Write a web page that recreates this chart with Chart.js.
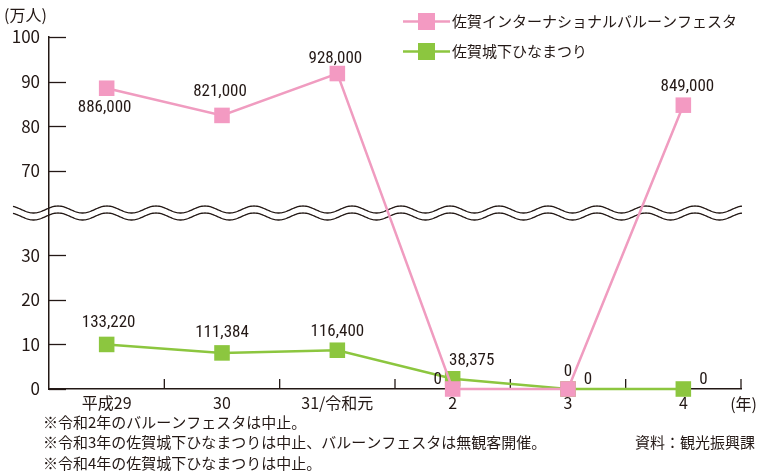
<!DOCTYPE html>
<html lang="ja">
<head>
<meta charset="utf-8">
<script src="https://cdn.jsdelivr.net/npm/chart.js@4.4.1/dist/chart.umd.min.js"></script>
<style>
    html, body { margin: 0; padding: 0; background: #ffffff; }
</style>
</head>
<body>
<canvas id="visitorChart" width="758" height="472"></canvas>
<script>
// values in 万人
const years = ["平成29", "30", "31/令和元", "2", "3", "4"];
const balloonValues = [88.5, 82.4, 91.8, 0, 0, 84.7];
const hinaValues = [10.0, 8.1, 8.7, 2.3, 0, 0];
const balloonLabels = ["886,000", "821,000", "928,000", "0", "0", "849,000"];
const hinaLabels = ["133,220", "111,384", "116,400", "38,375", "0", "0"];
const yTicks = [0, 10, 20, 30, 70, 80, 90, 100];
const seriesNames = ["佐賀インターナショナルバルーンフェスタ", "佐賀城下ひなまつり"];
const notes = [
    "※令和2年のバルーンフェスタは中止。",
    "※令和3年の佐賀城下ひなまつりは中止、バルーンフェスタは無観客開催。",
    "※令和4年の佐賀城下ひなまつりは中止。"
];
const sourceNote = "資料：観光振興課";

// broken axis: 30..70 is squeezed into a short gap
const BREAK_LOW = 30;
const BREAK_HIGH = 70;
const BREAK_SPAN = 19;

function toAxis(v) {
    return v <= BREAK_LOW ? v : v - (BREAK_HIGH - BREAK_LOW) + BREAK_SPAN;
}

const JP_FONT = "'Noto Sans CJK JP', 'Noto Sans', sans-serif";
const NUM_FONT = "'Liberation Sans Narrow', 'Roboto Condensed', Roboto, sans-serif";
const TEXT_COLOR = "#231815";
const PINK_LINE = "#f09cc0";
const PINK_MARK = "#f39ac2";
const GREEN_LINE = "#8cc63f";
const GREEN_MARK = "#8cc63f";

// label placement relative to each point [dx, dy]
const labelOffsets = [
    [[-2, 20], [-2, -24], [-2, -15], [-15, -9], [20, -9], [4, -18]],
    [[2, -22], [0, -20], [0, -18], [19, -18], [0, -17], [20, -9]]
];

const breakPlugin = {
    id: "breakPlugin",
    beforeDraw(chart) {
        const { ctx } = chart;
        const y = chart.scales.y;
        const cy = y.getPixelForValue((BREAK_LOW + toAxis(BREAK_HIGH)) / 2);
        ctx.save();
        ctx.strokeStyle = "#231815";
        ctx.lineWidth = 1.3;
        [-3.5, 3.5].forEach(off => {
            ctx.beginPath();
            for (let x = 13; x <= 742; x++) {
                const yy = cy + off - 3.5 * Math.cos(2 * Math.PI * (x - 58) / 49);
                if (x === 13) ctx.moveTo(x, yy); else ctx.lineTo(x, yy);
            }
            ctx.stroke();
        });
        ctx.restore();
    },
    beforeDatasetsDraw(chart) {
        const { ctx, chartArea } = chart;
        const x = chart.scales.x;
        const y = chart.scales.y;
        ctx.save();
        ctx.strokeStyle = "#231815";
        ctx.lineWidth = 1.3;
        // y ticks pointing inward
        y.ticks.forEach(t => {
            const py = Math.round(y.getPixelForValue(t.value)) + 0.5;
            ctx.beginPath();
            ctx.moveTo(chartArea.left, py);
            ctx.lineTo(chartArea.left + 17, py);
            ctx.stroke();
        });
        // x ticks between categories, pointing up
        const marks = [];
        for (let i = 0; i < years.length - 1; i++) {
            marks.push((x.getPixelForValue(i) + x.getPixelForValue(i + 1)) / 2);
        }
        marks.push(chartArea.right);
        marks.forEach(px => {
            ctx.beginPath();
            ctx.moveTo(px, chartArea.bottom);
            ctx.lineTo(px, chartArea.bottom - 10);
            ctx.stroke();
        });
        ctx.restore();
    },
    afterDatasetsDraw(chart) {
        const { ctx } = chart;
        const allLabels = [balloonLabels, hinaLabels];
        ctx.save();
        ctx.fillStyle = TEXT_COLOR;
        ctx.font = "17px " + NUM_FONT;
        ctx.textAlign = "center";
        ctx.textBaseline = "middle";
        allLabels.forEach((labels, d) => {
            const meta = chart.getDatasetMeta(d);
            meta.data.forEach((pt, i) => {
                const [dx, dy] = labelOffsets[d][i];
                ctx.fillText(labels[i], pt.x + dx, pt.y + dy);
            });
        });
        ctx.restore();
    },
    afterDraw(chart) {
        const { ctx } = chart;
        ctx.save();
        ctx.fillStyle = TEXT_COLOR;
        ctx.textBaseline = "middle";

        ctx.font = "16px " + JP_FONT;
        ctx.textAlign = "left";
        ctx.fillText("(万人)", 4, 15);
        ctx.textAlign = "right";
        ctx.fillText("(年)", 757, 404);

        // legend
        const lineColors = [PINK_LINE, GREEN_LINE];
        const markColors = [PINK_MARK, GREEN_MARK];
        seriesNames.forEach((name, i) => {
            const ly = 21.5 + 30 * i;
            ctx.strokeStyle = lineColors[i];
            ctx.lineWidth = 2.5;
            ctx.beginPath();
            ctx.moveTo(403, ly);
            ctx.lineTo(450, ly);
            ctx.stroke();
            ctx.fillStyle = markColors[i];
            ctx.fillRect(418, ly - 8.5, 17, 17);
            ctx.fillStyle = TEXT_COLOR;
            ctx.font = "15px " + JP_FONT;
            ctx.textAlign = "left";
            ctx.fillText(name, 452, ly);
        });

        // footnotes
        ctx.font = "15px " + JP_FONT;
        ctx.textAlign = "left";
        notes.forEach((n, i) => ctx.fillText(n, 43, 422 + 20.5 * i));
        ctx.textAlign = "right";
        ctx.fillText(sourceNote, 755, 442);
        ctx.restore();
    }
};

new Chart(document.getElementById("visitorChart"), {
    type: "line",
    data: {
        labels: years,
        datasets: [
            {
                label: seriesNames[0],
                data: balloonValues.map(toAxis),
                borderColor: PINK_LINE,
                borderWidth: 2.5,
                backgroundColor: PINK_MARK,
                pointStyle: "rect",
                pointRadius: 11,
                pointBorderWidth: 0,
                pointBackgroundColor: PINK_MARK,
                tension: 0,
                clip: false
            },
            {
                label: seriesNames[1],
                data: hinaValues.map(toAxis),
                borderColor: GREEN_LINE,
                borderWidth: 2.5,
                backgroundColor: GREEN_MARK,
                pointStyle: "rect",
                pointRadius: 11,
                pointBorderWidth: 0,
                pointBackgroundColor: GREEN_MARK,
                tension: 0,
                clip: false
            }
        ]
    },
    options: {
        responsive: false,
        animation: false,
        layout: { padding: { top: 37, right: 17, left: 0, bottom: 0 } },
        plugins: {
            legend: { display: false },
            tooltip: { enabled: false }
        },
        scales: {
            x: {
                offset: true,
                grid: { display: false, drawTicks: false },
                border: { display: true, color: "#231815", width: 1.5 },
                ticks: {
                    color: TEXT_COLOR,
                    font: { family: JP_FONT, size: 16 },
                    padding: 4,
                    maxRotation: 0,
                    autoSkip: false
                },
                afterFit(scale) { scale.height = 83; }
            },
            y: {
                min: 0,
                max: toAxis(100),
                grid: { display: false, drawTicks: false },
                border: { display: true, color: "#231815", width: 1.5 },
                afterBuildTicks(scale) {
                    scale.ticks = yTicks.map(v => ({ value: toAxis(v) }));
                },
                ticks: {
                    color: TEXT_COLOR,
                    font: { family: JP_FONT, size: 17 },
                    padding: 9,
                    callback: (value, index) => yTicks[index]
                },
                afterFit(scale) { scale.width = 49; }
            }
        }
    },
    plugins: [breakPlugin]
});
</script>
</body>
</html>
